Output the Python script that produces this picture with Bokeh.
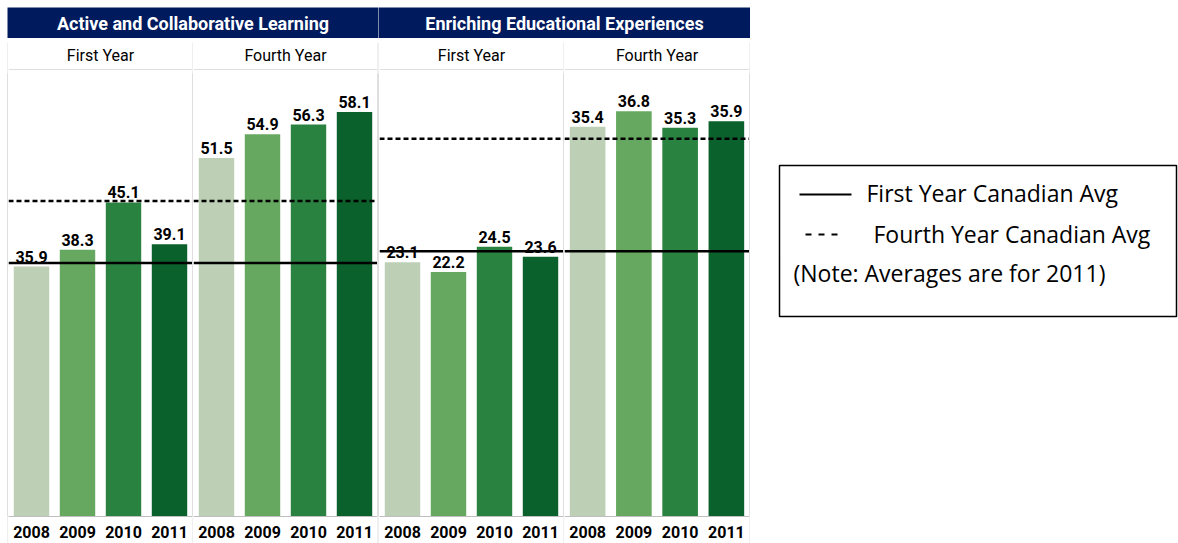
from bokeh.plotting import figure
from bokeh.models import FactorRange, Range1d, ColumnDataSource, Span, Label
from bokeh.layouts import row, column
from bokeh.embed import file_html
from bokeh.resources import INLINE
from bokeh.core.properties import value

# ---------------- data ----------------
years = ["2008", "2009", "2010", "2011"]
groups = ["First Year", "Fourth Year"]
panel_titles = ["Active and Collaborative Learning", "Enriching Educational Experiences"]

acl_first_year = [35.9, 38.3, 45.1, 39.1]
acl_fourth_year = [51.5, 54.9, 56.3, 58.1]
eee_first_year = [23.1, 22.2, 24.5, 23.6]
eee_fourth_year = [35.4, 36.8, 35.3, 35.9]

# Canadian averages (2011)
acl_avg_first = 36.4
acl_avg_fourth = 45.3
eee_avg_first = 24.1
eee_avg_fourth = 34.3

acl_y_max = 64.2
eee_y_max = 40.6

legend_labels = ["First Year Canadian Avg", "Fourth Year Canadian Avg"]
legend_note = "(Note: Averages are for 2011)"

# ---------------- style ----------------
bar_colors = ["#BDD0B6", "#66A85F", "#2A8240", "#0B612C"]
NAVY = "#001A5E"
GRID_GREY = "#BFBFBF"
FONT = "Roboto"
TOP_BAND = 31      # px above the frame (sub-header band)
FRAME_H = 447
BOTTOM_BAND = 27   # px below the frame (year labels)
PANEL_H = TOP_BAND + FRAME_H + BOTTOM_BAND
DIV_GAP = 4        # white gap between navy header and the divider lines


def make_header(title, width):
    h = figure(width=width, height=31, x_range=Range1d(0, 1), y_range=Range1d(0, 1),
               x_axis_location=None, y_axis_location=None, min_border=0,
               toolbar_location=None, output_backend="svg")
    h.background_fill_color = NAVY
    h.outline_line_color = None
    h.grid.visible = False
    h.add_layout(Label(x=0.5, y=0.5, text=title, text_align="center", text_baseline="middle",
                       text_color="white", text_font=FONT, text_font_size="18px",
                       text_font_style="bold"))
    return h


def make_divider():
    d = figure(width=1, height=PANEL_H - DIV_GAP, x_range=Range1d(0, 1), y_range=Range1d(0, 1),
               x_axis_location=None, y_axis_location=None, min_border=0,
               toolbar_location=None, output_backend="svg", margin=(DIV_GAP, 0, 0, 0))
    d.background_fill_color = GRID_GREY
    d.border_fill_color = GRID_GREY
    d.outline_line_color = None
    d.grid.visible = False
    return d


def make_group(group, vals, avg_first, avg_fourth, y_range, width):
    p = figure(x_range=FactorRange(factors=years, factor_padding=0, range_padding=0),
               y_range=y_range, frame_width=width, frame_height=FRAME_H,
               min_border=0, min_border_top=TOP_BAND, min_border_bottom=BOTTOM_BAND,
               y_axis_location=None, title=group,
               toolbar_location=None, output_backend="svg")
    p.grid.visible = False
    p.outline_line_color = None

    p.title.align = "center"
    p.title.text_font = FONT
    p.title.text_font_size = "16px"
    p.title.text_font_style = "normal"
    p.title.text_color = "black"
    p.title.standoff = 9

    src = ColumnDataSource(dict(
        x=years,
        top=vals,
        color=bar_colors,
        label=[f"{v:.1f}" for v in vals],
    ))
    p.vbar(x="x", top="top", width=0.77, fill_color="color", line_color=None, source=src)
    p.text(x="x", y="top", text="label", text_align="center", text_baseline="bottom",
           y_offset=-4, text_font=value(FONT), text_font_size="16px",
           text_font_style="bold", text_color="black", source=src)

    # line under the sub-header band
    p.add_layout(Span(location=y_range.end, dimension="width", line_color=GRID_GREY, line_width=1))
    p.add_layout(Span(location=avg_first, dimension="width", line_color="black", line_width=2.5))
    p.add_layout(Span(location=avg_fourth, dimension="width", line_color="black",
                      line_width=2.5, line_dash="5 3"))

    ax = p.xaxis[0]
    ax.axis_line_color = GRID_GREY
    ax.major_tick_line_color = None
    ax.minor_tick_line_color = None
    ax.major_label_text_font = FONT
    ax.major_label_text_font_size = "16px"
    ax.major_label_text_font_style = "bold"
    ax.major_label_text_color = "black"
    ax.major_label_standoff = 3
    return p


def make_panel(title, first, fourth, avg_first, avg_fourth, y_max, widths):
    yr = Range1d(0, y_max)
    g1 = make_group(groups[0], first, avg_first, avg_fourth, yr, widths[0])
    g2 = make_group(groups[1], fourth, avg_first, avg_fourth, yr, widths[1])
    body = row(make_divider(), g1, make_divider(), g2, make_divider())
    return column(make_header(title, sum(widths) + 3), body)


left = make_panel(panel_titles[0], acl_first_year, acl_fourth_year,
                  acl_avg_first, acl_avg_fourth, acl_y_max, (184, 184))
right = make_panel(panel_titles[1], eee_first_year, eee_fourth_year,
                   eee_avg_first, eee_avg_fourth, eee_y_max, (184, 185))

# ---------------- legend ----------------
LW, LH = 428, 536
lg = figure(width=LW, height=LH, x_range=Range1d(0, LW), y_range=Range1d(LH, 0),
            x_axis_location=None, y_axis_location=None, min_border=0,
            toolbar_location=None, output_backend="svg")
lg.grid.visible = False
lg.outline_line_color = None
lg.quad(left=[29], right=[426], top=[158], bottom=[309], fill_color=None,
        line_color="black", line_width=1.5)
lg.line(x=[49, 101], y=[187, 187], line_color="black", line_width=2)
lg.line(x=[55, 88], y=[227, 227], line_color="black", line_width=2, line_dash="6 7")
lg.text(x=[116, 123, 43], y=[185, 226, 265], text=legend_labels + [legend_note],
        text_baseline="middle", text_align="left", text_font=value("Open Sans"),
        text_font_size="23px", text_color="black")

layout = row(left, right, lg, margin=(7, 0, 0, 7))
open("out.html", "w").write(file_html(layout, INLINE))
